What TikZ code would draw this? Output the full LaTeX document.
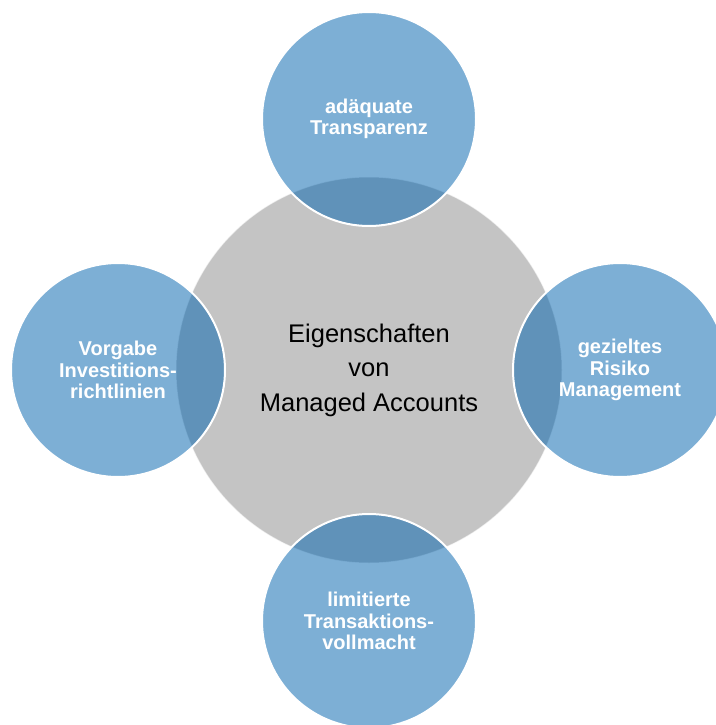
\documentclass[tikz,border=0pt]{standalone}
\usepackage{fontspec}
\setmainfont{Liberation Sans}
\definecolor{kreisblau}{RGB}{6,102,175}
\definecolor{kreisgrau}{RGB}{196,196,196}
\tikzset{
  kern/.style={circle, fill=kreisgrau, draw=white, draw opacity=0.6, line width=1pt,
    minimum size=386pt, inner sep=0pt, align=center,
    font=\fontsize{25.5}{34.5}\selectfont},
  merkmal/.style={circle, fill=kreisblau, fill opacity=0.52, text opacity=1,
    draw=white, draw opacity=1, line width=2pt, minimum size=214pt, inner sep=0pt,
    align=center, text=white, font=\bfseries\fontsize{20}{21.5}\selectfont}
}
\begin{document}
\begin{tikzpicture}[x=1pt,y=-1pt]
    \useasboundingbox (0,0) rectangle (715,725);

    % Mitte
    \node[kern] (mitte) at (369,370) {Eigenschaften\\von\\Managed Accounts};

    % Merkmale
    \node[merkmal] (oben) at (369,119) {adäquate\\Transparenz};
    \node[merkmal] (rechts) at (620,370) {gezieltes\\Risiko\\Management};
    \node[merkmal] (unten) at (369,621) {limitierte\\Transaktions-\\vollmacht};
    \node[merkmal] (links) at (118,370) {Vorgabe\\Investitions-\\richtlinien};
\end{tikzpicture}
\end{document}
